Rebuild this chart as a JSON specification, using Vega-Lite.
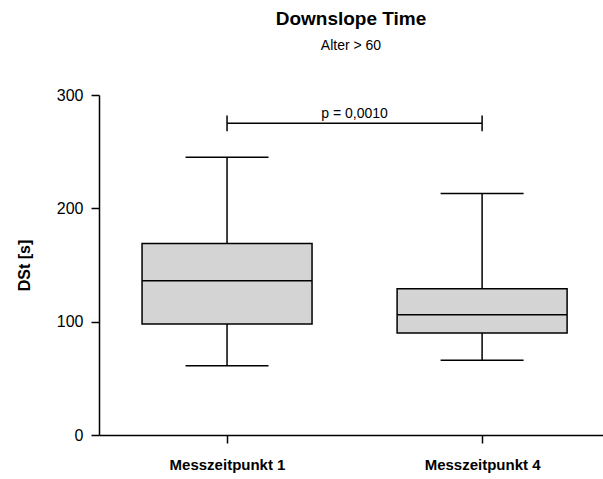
{
  "$schema": "https://vega.github.io/schema/vega-lite/v6.json",
  "width": 504,
  "height": 340,
  "autosize": {"type": "none"},
  "padding": {"left": 99, "top": 95, "right": 0, "bottom": 44},
  "background": "white",
  "config": {
    "font": "Liberation Sans",
    "view": {"stroke": null}
  },
  "title": {
    "text": "Downslope Time",
    "subtitle": "Alter > 60",
    "anchor": "middle",
    "fontSize": 19,
    "fontWeight": "bold",
    "color": "black",
    "subtitleFontSize": 14,
    "subtitleColor": "black",
    "subtitlePadding": 10,
    "offset": 34
  },
  "datasets": {
    "boxes": [
      {"pos": 1, "group": "Messzeitpunkt 1", "min": 61, "q1": 98, "median": 136, "q3": 169, "max": 245},
      {"pos": 2, "group": "Messzeitpunkt 4", "min": 66, "q1": 90, "median": 106, "q3": 129, "max": 213}
    ],
    "sig": [
      {"from": 1, "to": 2, "mid": 1.5, "y": 275, "label": "p = 0,0010"}
    ],
    "sigends": [
      {"pos": 1, "ylo": 268, "yhi": 282},
      {"pos": 2, "ylo": 268, "yhi": 282}
    ]
  },
  "encoding": {
    "x": {
      "field": "pos",
      "type": "quantitative",
      "scale": {"domain": [0.498, 2.474], "nice": false, "zero": false, "padding": 0},
      "axis": {
        "values": [1, 2],
        "labelExpr": "datum.value == 1 ? 'Messzeitpunkt 1' : 'Messzeitpunkt 4'",
        "title": null,
        "grid": false,
        "domainColor": "black",
        "domainWidth": 1.5,
        "tickColor": "black",
        "tickWidth": 1.5,
        "tickSize": 8,
        "labelFontSize": 15,
        "labelFontWeight": "bold",
        "labelColor": "black",
        "labelPadding": 14,
        "labelFlush": false
      }
    }
  },
  "layer": [
    {
      "data": {"name": "boxes"},
      "mark": {"type": "rule", "stroke": "black", "strokeWidth": 1.5},
      "encoding": {
        "y": {
          "field": "min",
          "type": "quantitative",
          "scale": {"domain": [0, 300], "nice": false},
          "axis": {
            "values": [0, 100, 200, 300],
            "title": "DSt [s]",
            "titleFontSize": 16,
            "titleFontWeight": "bold",
            "titleColor": "black",
            "titlePadding": 24,
            "grid": false,
            "domainColor": "black",
            "domainWidth": 1.5,
            "tickColor": "black",
            "tickWidth": 1.5,
            "tickSize": 8,
            "labelFontSize": 16,
            "labelColor": "black",
            "labelPadding": 8
          }
        },
        "y2": {"field": "max"}
      }
    },
    {
      "data": {"name": "boxes"},
      "mark": {"type": "bar", "size": 170, "fill": "#d4d4d4", "stroke": "black", "strokeWidth": 1.5},
      "encoding": {
        "y": {"field": "q1", "type": "quantitative"},
        "y2": {"field": "q3"}
      }
    },
    {
      "data": {"name": "boxes"},
      "mark": {"type": "tick", "orient": "horizontal", "size": 170, "thickness": 1.5, "color": "black", "opacity": 1},
      "encoding": {
        "y": {"field": "median", "type": "quantitative"}
      }
    },
    {
      "data": {"name": "boxes"},
      "mark": {"type": "tick", "orient": "horizontal", "size": 83, "thickness": 1.5, "color": "black", "opacity": 1},
      "encoding": {
        "y": {"field": "min", "type": "quantitative"}
      }
    },
    {
      "data": {"name": "boxes"},
      "mark": {"type": "tick", "orient": "horizontal", "size": 83, "thickness": 1.5, "color": "black", "opacity": 1},
      "encoding": {
        "y": {"field": "max", "type": "quantitative"}
      }
    },
    {
      "data": {"name": "sig"},
      "mark": {"type": "rule", "stroke": "black", "strokeWidth": 1.5},
      "encoding": {
        "x": {"field": "from", "type": "quantitative"},
        "x2": {"field": "to"},
        "y": {"field": "y", "type": "quantitative"}
      }
    },
    {
      "data": {"name": "sigends"},
      "mark": {"type": "rule", "stroke": "black", "strokeWidth": 1.5},
      "encoding": {
        "x": {"field": "pos", "type": "quantitative"},
        "y": {"field": "ylo", "type": "quantitative"},
        "y2": {"field": "yhi"}
      }
    },
    {
      "data": {"name": "sig"},
      "mark": {"type": "text", "fontSize": 14, "color": "black", "baseline": "alphabetic", "dy": -5},
      "encoding": {
        "x": {"field": "mid", "type": "quantitative"},
        "y": {"field": "y", "type": "quantitative"},
        "text": {"field": "label"}
      }
    }
  ]
}
